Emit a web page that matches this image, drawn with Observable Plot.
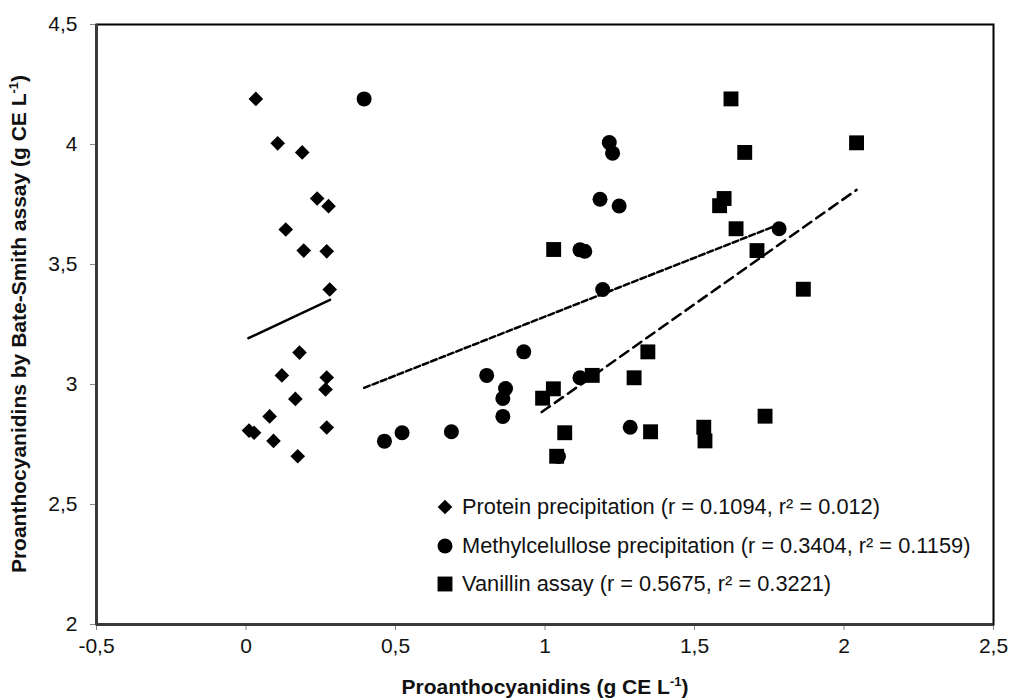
<!DOCTYPE html>
<html><head><meta charset="utf-8">
<script src="https://cdn.jsdelivr.net/npm/d3@7"></script>
<script src="https://cdn.jsdelivr.net/npm/@observablehq/plot@0.6"></script>
<style>
body{margin:0;background:#fff;font-family:"Liberation Sans",Arial,sans-serif;}
#wrap{position:relative;width:1010px;height:698px;}
#legend{position:absolute;left:434px;top:488px;font-size:21.8px;color:#111;}
.row{display:flex;align-items:center;height:38.5px;white-space:nowrap;}
.row svg{width:22px;height:22px;margin-right:6px;flex:none;}
</style></head><body><div id="wrap"><div id="legend"></div></div>
<script>
// Protein precipitation (diamonds)
const proteinX = [0.033,0.106,0.188,0.238,0.276,0.133,0.193,0.270,0.280,0.179,0.120,0.270,0.266,0.165,0.079,0.010,0.027,0.270,0.092,0.173];
const proteinY = [4.19,4.005,3.967,3.775,3.743,3.646,3.558,3.555,3.396,3.133,3.038,3.029,2.979,2.94,2.867,2.808,2.799,2.821,2.765,2.701];
// Methylcellulose precipitation (circles)
const methylX = [0.395,1.215,1.226,1.184,1.248,1.783,1.117,1.133,1.193,0.929,0.805,1.117,0.868,0.859,0.859,0.522,0.687,1.285,0.463,1.045];
const methylY = [4.19,4.008,3.964,3.772,3.744,3.649,3.561,3.555,3.396,3.136,3.038,3.028,2.983,2.942,2.867,2.799,2.803,2.822,2.764,2.70];
// Vanillin assay (squares)
const vanillinX = [1.622,2.042,1.668,1.599,1.584,1.639,1.029,1.709,1.864,1.344,1.158,1.298,1.028,0.992,1.736,1.066,1.353,1.531,1.535,1.039];
const vanillinY = [4.19,4.007,3.967,3.775,3.745,3.649,3.5625,3.558,3.397,3.136,3.038,3.028,2.982,2.943,2.868,2.799,2.803,2.822,2.765,2.701];
// Linear trend lines (endpoints)
const proteinTrendX = [0.008,0.281];
const proteinTrendY = [3.193,3.353];
const methylTrendX = [0.395,1.783];
const methylTrendY = [2.986,3.667];
const vanillinTrendX = [0.989,2.042];
const vanillinTrendY = [2.885,3.811];
// Ticks
const xTicks = [-0.5,0,0.5,1,1.5,2,2.5];
const yTicks = [2,2.5,3,3.5,4,4.5];
// Legend
const seriesNames = ["Protein precipitation","Methylcelullose precipitation","Vanillin assay"];
const seriesStats = ["(r = 0.1094, r² = 0.012)","(r = 0.3404, r² = 0.1159)","(r = 0.5675, r² = 0.3221)"];
const xTitle = "Proanthocyanidins (g CE L";
const yTitle = "Proanthocyanidins by Bate-Smith assay (g CE L";

const pts = (xs, ys) => xs.map((x, i) => ({x, y: ys[i]}));
const fmt = d => String(d).replace(".", ",");

const symbols = [
  {sym: "diamond2", r: 6.6, d3sym: d3.symbolDiamond2},
  {sym: "circle", r: 7.5, d3sym: d3.symbolCircle},
  {sym: "square", r: 8.4, d3sym: d3.symbolSquare}
];

const plot = Plot.plot({
  width: 1010, height: 698,
  marginTop: 24, marginRight: 17, marginBottom: 74, marginLeft: 96,
  style: {fontSize: "21px", fontFamily: "'Liberation Sans', Arial, sans-serif", color: "#111", background: "white"},
  x: {domain: [-0.5, 2.5]},
  y: {domain: [2, 4.5]},
  marks: [
    Plot.axisX(xTicks, {tickFormat: fmt, tickSize: 6, tickPadding: 8, label: null}),
    Plot.axisY(yTicks, {tickFormat: fmt, tickSize: 6, tickPadding: 13, label: null}),
    Plot.frame({stroke: "#000", strokeWidth: 2}),
    Plot.ruleX([xTicks[0]], {stroke: "#3a3a3a", strokeWidth: 3}),
    Plot.ruleY([yTicks[0]], {stroke: "#3a3a3a", strokeWidth: 3}),
    Plot.line(pts(proteinTrendX, proteinTrendY), {x: "x", y: "y", stroke: "#000", strokeWidth: 2.5}),
    Plot.line(pts(methylTrendX, methylTrendY), {x: "x", y: "y", stroke: "#000", strokeWidth: 2.5, strokeDasharray: "6,3"}),
    Plot.line(pts(vanillinTrendX, vanillinTrendY), {x: "x", y: "y", stroke: "#000", strokeWidth: 2.5, strokeDasharray: "10,6"}),
    Plot.dot(pts(proteinX, proteinY), {x: "x", y: "y", symbol: symbols[0].sym, r: symbols[0].r, fill: "#000", stroke: "none"}),
    Plot.dot(pts(methylX, methylY), {x: "x", y: "y", symbol: symbols[1].sym, r: symbols[1].r, fill: "#000", stroke: "none"}),
    Plot.dot(pts(vanillinX, vanillinY), {x: "x", y: "y", symbol: symbols[2].sym, r: symbols[2].r, fill: "#000", stroke: "none"})
  ]
});

const svg = d3.select(plot);
svg.selectAll('[aria-label="x-axis tick"] path, [aria-label="y-axis tick"] path').attr("stroke", "#888");

// Axis titles with superscript
function addTitle(g, text) {
  g.attr("font-weight", "bold").attr("font-size", 21).attr("fill", "#111").attr("text-anchor", "middle");
  g.append("tspan").text(text);
  g.append("tspan").attr("dy", -8).attr("font-size", 13).text("-1");
  g.append("tspan").attr("dy", 8).text(")");
}
addTitle(svg.append("text").attr("x", 545).attr("y", 694), xTitle);
addTitle(svg.append("text").attr("transform", "translate(26,324) rotate(-90)"), yTitle);

document.getElementById("wrap").prepend(plot);

// Legend
const leg = d3.select("#legend");
seriesNames.forEach((name, i) => {
  const row = leg.append("div").attr("class", "row");
  const s = row.append("svg").attr("viewBox", "-11 -11 22 22");
  const size = Math.PI * symbols[i].r * symbols[i].r;
  s.append("path").attr("d", d3.symbol(symbols[i].d3sym, size)()).attr("fill", "#000");
  row.append("span").text(name + " " + seriesStats[i]);
});
</script>
</body></html>
